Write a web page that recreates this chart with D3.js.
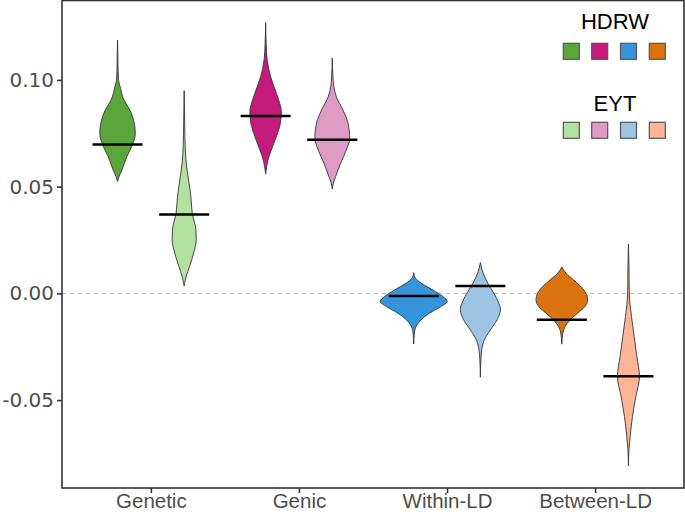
<!DOCTYPE html>
<html>
<head>
<meta charset="utf-8">
<script src="https://cdn.jsdelivr.net/npm/d3@7"></script>
<style>
  html, body { margin: 0; padding: 0; background: #fff; }
  svg { display: block; }
</style>
</head>
<body>
<svg id="chart" width="685" height="512"></svg>
<script>
// ---------- data ----------
const categories = ["Genetic", "Genic", "Within-LD", "Between-LD"];
const groups = ["HDRW", "EYT"];
const colorsHDRW = ["#5ba63c", "#c51b7d", "#3595db", "#da730e"];
const colorsEYT  = ["#b3e2a0", "#de9bc4", "#9cc5e4", "#fdb596"];
const yTicks = [-0.05, 0.00, 0.05, 0.10];
const yTickLabels = ["-0.05", "0.00", "0.05", "0.10"];

// medians (horizontal black lines)
const medianHDRW = [0.0697, 0.0831, -0.0013, -0.0124];
const medianEYT  = [0.0369, 0.0720, 0.0034, -0.0388];

// violin profiles: [value, relative density]
const geneticHDRW = [[0.1187,0],[0.1078,0.012],[0.1000,0.03],[0.0961,0.09],[0.0922,0.15],[0.0844,0.41],[0.0797,0.50],[0.0750,0.53],[0.0697,0.45],[0.0641,0.28],[0.0578,0.13],[0.0547,0.045],[0.0524,0]];
const geneticEYT  = [[0.0950,0],[0.0797,0.015],[0.0688,0.03],[0.0610,0.06],[0.0532,0.13],[0.0453,0.20],[0.0376,0.24],[0.0297,0.35],[0.0251,0.36],[0.0188,0.28],[0.0126,0.16],[0.0079,0.06],[0.0035,0]];
const genicHDRW   = [[0.1268,0],[0.1172,0.015],[0.1094,0.045],[0.1015,0.15],[0.0938,0.32],[0.0891,0.42],[0.0852,0.47],[0.0797,0.44],[0.0734,0.32],[0.0672,0.17],[0.0625,0.07],[0.0594,0.03],[0.0560,0]];
const genicEYT    = [[0.1102,0],[0.1015,0.02],[0.0969,0.045],[0.0922,0.12],[0.0859,0.32],[0.0797,0.47],[0.0727,0.52],[0.0672,0.42],[0.0610,0.25],[0.0547,0.10],[0.0516,0.03],[0.0489,0]];
const withinHDRW  = [[0.0097,0],[0.0071,0.05],[0.0048,0.22],[0.0016,0.57],[-0.0015,0.87],[-0.0038,1.0],[-0.0062,0.81],[-0.0093,0.47],[-0.0124,0.22],[-0.0155,0.07],[-0.0186,0.02],[-0.0237,0]];
const withinEYT   = [[0.0144,0],[0.0095,0.08],[0.0048,0.22],[0.0001,0.40],[-0.0046,0.55],[-0.0077,0.60],[-0.0124,0.50],[-0.0171,0.30],[-0.0218,0.12],[-0.0265,0.04],[-0.0311,0.015],[-0.0393,0]];
const betweenHDRW = [[0.0123,0],[0.0095,0.12],[0.0063,0.35],[0.0032,0.57],[0.0001,0.72],[-0.0030,0.77],[-0.0062,0.69],[-0.0093,0.47],[-0.0124,0.25],[-0.0155,0.10],[-0.0186,0.03],[-0.0238,0]];
const betweenEYT  = [[0.0231,0],[0.0126,0.015],[0.0001,0.024],[-0.0109,0.09],[-0.0202,0.17],[-0.0296,0.25],[-0.0390,0.33],[-0.0483,0.22],[-0.0577,0.12],[-0.0671,0.05],[-0.0733,0.015],[-0.0808,0]];

const profilesHDRW = [geneticHDRW, genicHDRW, withinHDRW, betweenHDRW];
const profilesEYT  = [geneticEYT, genicEYT, withinEYT, betweenEYT];

// ---------- layout ----------
const svg = d3.select("#chart");
const panel = { left: 62, right: 684, top: 0.5, bottom: 488 };

const x = d3.scaleLinear().domain([0.4, categories.length + 0.6]).range([panel.left, panel.right]);
const y = d3.scaleLinear().domain([-0.0912, 0.1372]).range([panel.bottom, panel.top]);
const w = d3.scaleLinear().domain([0, 1]).range([0, 33.5]); // half-width of violin
const dodge = 0.225;
const medianHalf = 0.169;

// zero reference line
svg.append("line")
  .attr("x1", panel.left).attr("x2", panel.right)
  .attr("y1", y(0)).attr("y2", y(0))
  .attr("stroke", "#b3b3b3").attr("stroke-width", 1)
  .attr("stroke-dasharray", "4,4");

function drawViolin(profile, cx, fill) {
  const area = d3.area()
    .y(d => y(d[0]))
    .x0(d => cx - w(d[1]))
    .x1(d => cx + w(d[1]))
    .curve(d3.curveMonotoneY);
  svg.append("path")
    .datum(profile.slice().reverse())
    .attr("d", area)
    .attr("fill", fill)
    .attr("stroke", "#333")
    .attr("stroke-width", 0.9);
}

categories.forEach((c, i) => {
  const cH = x(i + 1 - dodge), cE = x(i + 1 + dodge);
  drawViolin(profilesHDRW[i], cH, colorsHDRW[i]);
  drawViolin(profilesEYT[i], cE, colorsEYT[i]);
});

// median lines
categories.forEach((c, i) => {
  [[i + 1 - dodge, medianHDRW[i]], [i + 1 + dodge, medianEYT[i]]].forEach(([px, m]) => {
    svg.append("line")
      .attr("x1", x(px - medianHalf)).attr("x2", x(px + medianHalf))
      .attr("y1", y(m)).attr("y2", y(m))
      .attr("stroke", "#000").attr("stroke-width", 2.5);
  });
});

// panel border
svg.append("rect")
  .attr("x", panel.left).attr("y", panel.top)
  .attr("width", panel.right - panel.left).attr("height", panel.bottom - panel.top)
  .attr("fill", "none").attr("stroke", "#333").attr("stroke-width", 1.6);

// y axis
const yAxis = d3.axisLeft(y).tickValues(yTicks).tickSize(5).tickPadding(3)
  .tickFormat((d, i) => yTickLabels[i]);
const gy = svg.append("g").attr("transform", `translate(${panel.left},0)`).call(yAxis);
gy.select(".domain").remove();
gy.selectAll(".tick line").attr("stroke", "#333").attr("stroke-width", 1.6);
gy.selectAll(".tick text")
  .attr("fill", "#4d4d4d")
  .style("font-family", "'DejaVu Sans', sans-serif")
  .style("font-size", "20px");

// x axis
const xAxis = d3.axisBottom(x).tickValues(categories.map((c, i) => i + 1)).tickSize(5).tickPadding(2)
  .tickFormat((d, i) => categories[i]);
const gx = svg.append("g").attr("transform", `translate(0,${panel.bottom})`).call(xAxis);
gx.select(".domain").remove();
gx.selectAll(".tick line").attr("stroke", "#333").attr("stroke-width", 1.6);
gx.selectAll(".tick text")
  .attr("fill", "#4d4d4d")
  .attr("y", 20)
  .attr("dy", null)
  .style("font-family", "'Liberation Sans', Arial, sans-serif")
  .style("font-size", "20.5px");

// legend
const legendX = [563.3, 591.7, 620.5, 649.3];
const legendSets = [
  { title: groups[0], colors: colorsHDRW, titleY: 28.5, boxY: 43.3 },
  { title: groups[1], colors: colorsEYT,  titleY: 110.7, boxY: 122.3 }
];
legendSets.forEach(s => {
  svg.append("text")
    .attr("x", 615).attr("y", s.titleY)
    .attr("text-anchor", "middle")
    .style("font-family", "'Liberation Sans', Arial, sans-serif")
    .style("font-size", "22px")
    .attr("fill", "#000")
    .text(s.title);
  s.colors.forEach((col, j) => {
    svg.append("rect")
      .attr("x", legendX[j]).attr("y", s.boxY)
      .attr("width", 16).attr("height", 16)
      .attr("fill", col).attr("stroke", "#555").attr("stroke-width", 1.2);
  });
});
</script>
</body>
</html>
